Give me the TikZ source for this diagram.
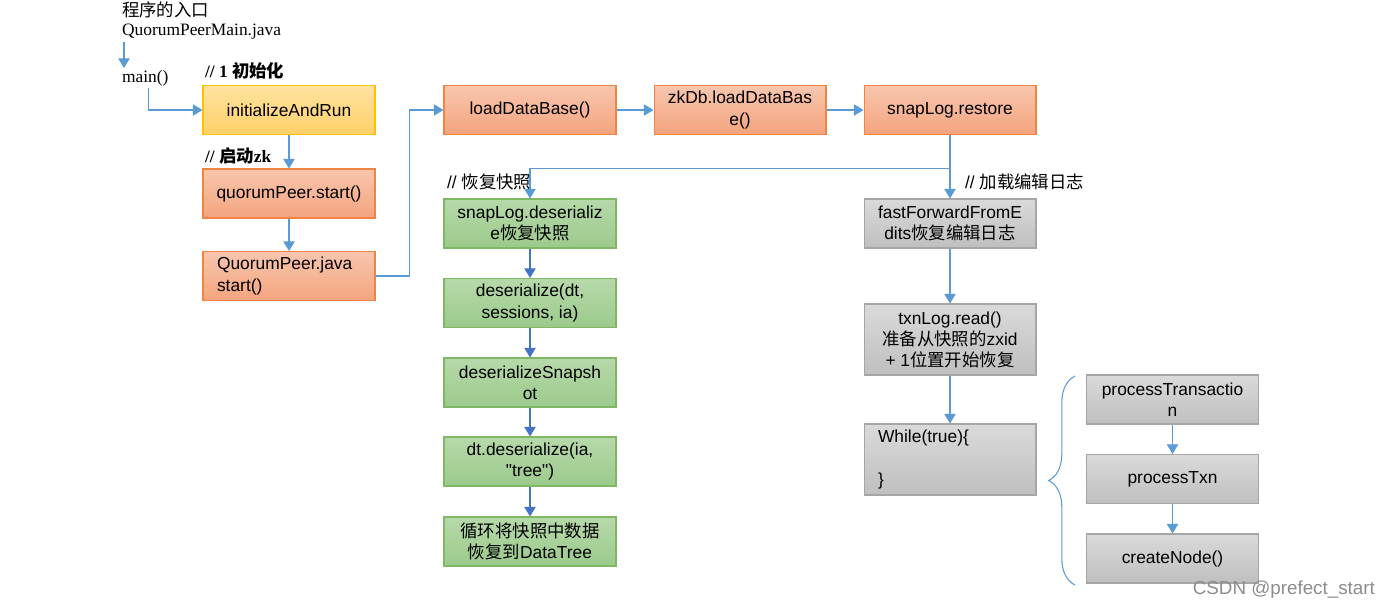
\documentclass[tikz,border=0pt]{standalone}
\usepackage{fontspec}
\setmainfont{Liberation Sans}[Ligatures=TeXOff]
\newfontfamily\tms{Liberation Serif}
\newfontfamily\cjk{Noto Sans CJK SC}
\newcommand{\zh}[1]{{\cjk #1}}
\usetikzlibrary{arrows.meta,decorations.pathreplacing}
\definecolor{orgtop}{HTML}{F8C6AE}
\definecolor{orgbot}{HTML}{F4A47E}
\definecolor{orgline}{HTML}{EF8540}
\definecolor{ylwtop}{HTML}{FFE3A0}
\definecolor{ylwbot}{HTML}{FFD068}
\definecolor{ylwline}{HTML}{FFC000}
\definecolor{grntop}{HTML}{B7D9AA}
\definecolor{grnbot}{HTML}{9BCA8B}
\definecolor{grnline}{HTML}{7EB864}
\definecolor{grytop}{HTML}{DADADA}
\definecolor{grybot}{HTML}{BFBFBF}
\definecolor{gryline}{HTML}{A6A6A6}
\definecolor{lnblue}{HTML}{5B9BD5}
\definecolor{lndark}{HTML}{4472C4}
\begin{document}
\begin{tikzpicture}[x=0.02cm,y=-0.02cm,font=\fontsize{9.9}{12}\selectfont,
    box/.style={line width=0.6pt,minimum width=3.44cm,minimum height=0.98cm,inner sep=1pt,align=center},
    ylw/.style={box,draw=ylwline,top color=ylwtop,bottom color=ylwbot},
    org/.style={box,draw=orgline,top color=orgtop,bottom color=orgbot},
    grn/.style={box,draw=grnline,top color=grntop,bottom color=grnbot},
    gry/.style={box,draw=gryline,top color=grytop,bottom color=grybot},
    tall/.style={minimum height=1.42cm},
    leftbox/.style={align=left,text width=2.88cm,inner xsep=0.28cm},
    lbl/.style={anchor=west,inner sep=1pt},
    serif/.style={font=\fontsize{9.9}{12}\selectfont\tms},
    arr/.style={draw=lnblue,line width=0.6pt,-{Triangle[width=6.5pt,length=5.5pt]}},
    darr/.style={arr,draw=lndark}]
\useasboundingbox (0,0) rectangle (1391,610);
\node[lbl] (entry) at (120,10) {\zh{程序的入口}};
\node[lbl,serif] (qpm) at (120,32) {QuorumPeerMain.java};
\node[lbl,serif] (main) at (120,78) {main()};
\node[lbl,font=\fontsize{9.9}{12}\selectfont\tms\bfseries] (linit) at (203,71) {// 1 \zh{初始化}};
\node[lbl,font=\fontsize{9.9}{12}\selectfont\tms\bfseries] (lzk) at (203,156) {// \zh{启动}zk};
\node[lbl] (lsnap) at (445,182) {// \zh{恢复快照}};
\node[lbl] (llog) at (963,182) {// \zh{加载编辑日志}};

\node[ylw] (init) at (289,110) {initializeAndRun};
\node[org] (qstart) at (289,193.5) {quorumPeer.start()};
\node[org,leftbox] (qjava) at (289,276) {QuorumPeer.java\\start()};
\node[org] (loaddb) at (530,110) {loadDataBase()};
\node[org] (zkdb) at (740,110) {zkDb.loadDataBas\\e()};
\node[org] (restore) at (950,110) {snapLog.restore};

\node[grn] (g1) at (530,223.5) {snapLog.deserializ\\e\zh{恢复快照}};
\node[grn] (g2) at (530,303) {deserialize(dt,\\sessions, ia)};
\node[grn] (g3) at (530,382.5) {deserializeSnapsh\\ot};
\node[grn] (g4) at (530,461.5) {dt.deserialize(ia,\\"tree")};
\node[grn] (g5) at (530,541.5) {\zh{循环将快照中数据}\\\zh{恢复到}DataTree};

\node[gry] (f1) at (950,223.5) {fastForwardFromE\\dits\zh{恢复编辑日志}};
\node[gry,tall] (txn) at (950,339.5) {txnLog.read()\\\zh{准备从快照的}zxid\\+ 1\zh{位置开始恢复}};
\node[gry,tall,leftbox] (loop) at (950,459.5) {While(true)\{\\[12pt]\}};

\node[gry] (p1) at (1172.5,399.5) {processTransactio\\n};
\node[gry] (p2) at (1172.5,479) {processTxn};
\node[gry] (p3) at (1172.5,558.5) {createNode()};

\draw[arr] ([xshift=0.08cm]qpm.south west) -- ([xshift=0.08cm]main.north west);
\draw[arr] ([xshift=0.06cm]main.south) |- (init.west);
\draw[arr] (init) -- (qstart);
\draw[arr] (qstart) -- (qjava);
\draw[arr] (qjava.east) -- ++(34,0) |- (loaddb.west);
\draw[arr] (loaddb) -- (zkdb);
\draw[arr] (zkdb) -- (restore);
\draw[arr] (restore.south) -- ++(0,33) -| (g1.north);
\draw[arr] (restore.south) -- (f1.north);
\foreach \a/\b in {g1/g2,g2/g3,g3/g4,g4/g5}
    \draw[darr] (\a) -- (\b);
\foreach \a/\b in {f1/txn,txn/loop,p1/p2,p2/p3}
    \draw[arr] (\a) -- (\b);
\draw[lnblue,line width=0.6pt,decorate,decoration={brace,amplitude=15pt}] (1075,585) -- (1075,376);

\node[anchor=east,inner sep=1pt,text=black!45,font=\fontsize{10.7}{13}\selectfont] (wm) at (1377,590) {CSDN @prefect\_start};
\end{tikzpicture}
\end{document}
